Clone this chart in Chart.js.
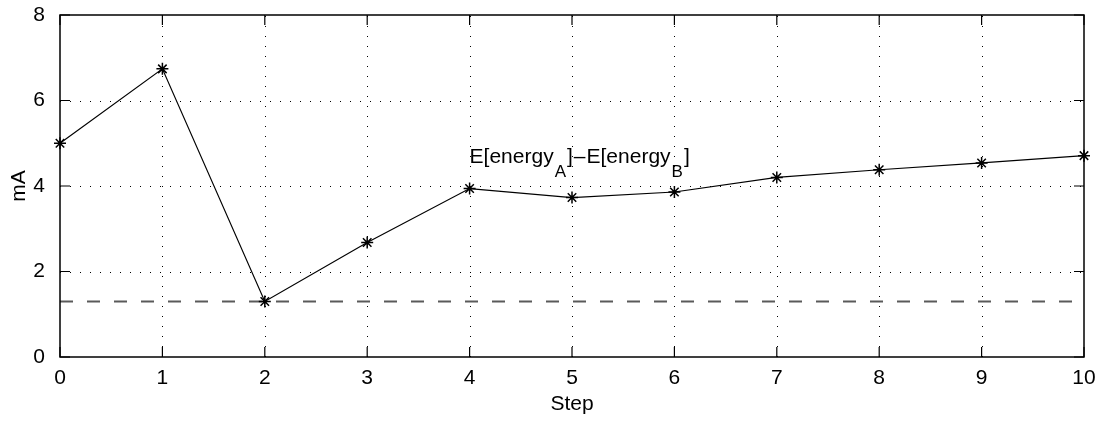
<!DOCTYPE html>
<html>
<head>
<meta charset="utf-8">
<script src="https://cdn.jsdelivr.net/npm/chart.js@4.4.0/dist/chart.umd.min.js"></script>
<style>
  html, body { margin: 0; padding: 0; background: #fff; }
  #wrap { width: 1106px; height: 422px; }
</style>
</head>
<body>
<div id="wrap"><canvas id="myChartLine"></canvas></div>
<script>
// step index and the measured difference (mA)
var steps = [0, 1, 2, 3, 4, 5, 6, 7, 8, 9, 10];
var diffValues = [5.0, 6.74, 1.3, 2.68, 3.94, 3.73, 3.86, 4.2, 4.38, 4.54, 4.71];
// reference level drawn as a dashed line
var baseLevel = 1.3;
var xTicks = [0, 1, 2, 3, 4, 5, 6, 7, 8, 9, 10];
var yTicks = [0, 2, 4, 6, 8];

var fontFam = '"Liberation Sans", Arial, Helvetica, sans-serif';

var diffPoints = steps.map(function(s, i){ return {x: s, y: diffValues[i]}; });
var basePoints = [{x: steps[0], y: baseLevel}, {x: steps[steps.length - 1], y: baseLevel}];

// dotted grid, frame with inward ticks and the in-plot label
var matlabFrame = {
    id: 'matlabFrame',
    beforeDatasetsDraw: function(chart){
        var ctx = chart.ctx, a = chart.chartArea;
        var sx = chart.scales.x, sy = chart.scales.y;
        ctx.save();
        ctx.strokeStyle = '#000';
        ctx.lineWidth = 1;
        ctx.setLineDash([1, 9]);
        xTicks.forEach(function(t){
            if (t <= xTicks[0] || t >= xTicks[xTicks.length - 1]) return;
            var px = Math.round(sx.getPixelForValue(t)) + 0.5;
            ctx.beginPath(); ctx.moveTo(px, a.bottom); ctx.lineTo(px, a.top); ctx.stroke();
        });
        yTicks.forEach(function(t){
            if (t <= yTicks[0] || t >= yTicks[yTicks.length - 1]) return;
            var py = Math.round(sy.getPixelForValue(t)) + 0.5;
            ctx.beginPath(); ctx.moveTo(a.left, py); ctx.lineTo(a.right, py); ctx.stroke();
        });
        ctx.restore();
    },
    afterDatasetsDraw: function(chart){
        var ctx = chart.ctx, a = chart.chartArea;
        var sx = chart.scales.x, sy = chart.scales.y;
        var tl = 10;
        ctx.save();
        ctx.strokeStyle = '#000';
        ctx.lineWidth = 1.5;
        ctx.setLineDash([]);
        ctx.strokeRect(a.left, a.top, a.right - a.left, a.bottom - a.top);
        ctx.lineWidth = 1.2;
        xTicks.forEach(function(t){
            var px = sx.getPixelForValue(t);
            ctx.beginPath();
            ctx.moveTo(px, a.bottom); ctx.lineTo(px, a.bottom - tl);
            ctx.moveTo(px, a.top); ctx.lineTo(px, a.top + tl);
            ctx.stroke();
        });
        yTicks.forEach(function(t){
            var py = sy.getPixelForValue(t);
            ctx.beginPath();
            ctx.moveTo(a.left, py); ctx.lineTo(a.left + tl, py);
            ctx.moveTo(a.right, py); ctx.lineTo(a.right - tl, py);
            ctx.stroke();
        });

        // E[energy_A]-E[energy_B], pieces laid out left to right
        var x = sx.getPixelForValue(4.0);
        var y = sy.getPixelForValue(4.54);
        var big = '21px ' + fontFam, small = '17px ' + fontFam;
        var parts = [
            {t: 'E[energy', f: big, dy: 0, gap: 0},
            {t: 'A', f: small, dy: 14, gap: 1},
            {t: ']', f: big, dy: 0, gap: 1},
            {t: '\u2013', f: big, dy: 0, gap: 1},
            {t: 'E[energy', f: big, dy: 0, gap: 1},
            {t: 'B', f: small, dy: 14, gap: 1},
            {t: ']', f: big, dy: 0, gap: 1}
        ];
        ctx.fillStyle = '#000';
        ctx.textBaseline = 'alphabetic';
        ctx.textAlign = 'left';
        parts.forEach(function(p){
            x += p.gap;
            ctx.font = p.f;
            ctx.fillText(p.t, x, y + p.dy);
            x += ctx.measureText(p.t).width;
        });
        ctx.restore();
    }
};

var ctxLine = document.getElementById('myChartLine');
var myChartLine = new Chart(ctxLine, {
    type: 'line',
    data: {
        datasets: [{
            label: 'diff',
            data: diffPoints,
            borderColor: '#000',
            backgroundColor: '#000',
            borderWidth: 1.2,
            pointStyle: 'star',
            pointRadius: 6,
            pointBorderWidth: 1.5,
            pointBorderColor: '#000',
            tension: 0,
            clip: false,
            order: 1
        }, {
            label: 'base',
            data: basePoints,
            borderColor: '#5a5a5a',
            borderWidth: 2,
            borderDash: [13, 14],
            pointRadius: 0,
            tension: 0,
            order: 2
        }]
    },
    options: {
        responsive: true,
        maintainAspectRatio: false,
        animation: false,
        layout: { padding: { top: 15, right: 22, left: 0, bottom: 0 } },
        plugins: {
            legend: { display: false },
            tooltip: { enabled: false }
        },
        scales: {
            x: {
                type: 'linear',
                min: 0,
                max: 10,
                afterBuildTicks: function(axis){
                    axis.ticks = xTicks.map(function(v){ return {value: v}; });
                },
                grid: { display: false },
                border: { display: false },
                ticks: {
                    color: '#000',
                    padding: 1,
                    font: { family: fontFam, size: 21 }
                },
                title: {
                    display: true,
                    text: 'Step',
                    color: '#000',
                    padding: { top: 0, bottom: 5 },
                    font: { family: fontFam, size: 21 }
                },
                afterFit: function(axis){
                    axis.height = 65;
                    axis.paddingLeft = 0;
                    axis.paddingRight = 0;
                }
            },
            y: {
                type: 'linear',
                min: 0,
                max: 8,
                afterBuildTicks: function(axis){
                    axis.ticks = yTicks.map(function(v){ return {value: v}; });
                },
                grid: { display: false },
                border: { display: false },
                ticks: {
                    color: '#000',
                    padding: 7,
                    font: { family: fontFam, size: 21 }
                },
                title: {
                    display: true,
                    text: 'mA',
                    color: '#000',
                    padding: { top: 7, bottom: 0 },
                    font: { family: fontFam, size: 21 }
                },
                afterFit: function(axis){
                    axis.width = 60;
                    axis.paddingTop = 0;
                    axis.paddingBottom = 0;
                }
            }
        }
    },
    plugins: [matlabFrame]
});
</script>
</body>
</html>
